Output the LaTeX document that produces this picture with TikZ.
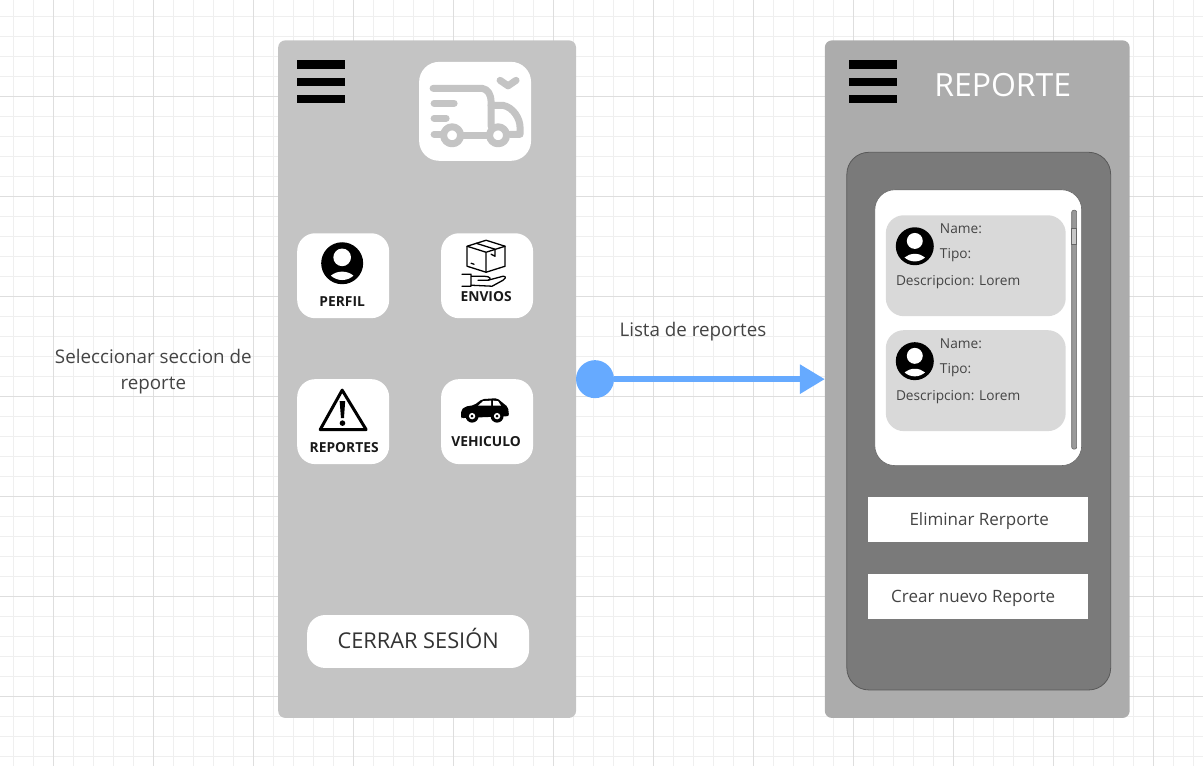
\documentclass[tikz,border=0pt]{standalone}
\usepackage{fontspec}
\setmainfont{Open Sans}
\usetikzlibrary{arrows.meta,positioning}

\definecolor{gridminor}{HTML}{EFEFEF}
\definecolor{gridmajor}{HTML}{DEDEDE}
\definecolor{panelA}{HTML}{C4C4C4}
\definecolor{panelB}{HTML}{ACACAC}
\definecolor{panelIn}{HTML}{7A7A7A}
\definecolor{itemgray}{HTML}{D9D9D9}
\definecolor{link}{HTML}{66AAFF}
\definecolor{txt}{HTML}{444444}

\begin{document}
\begin{tikzpicture}[
	x = 1pt, y = -1pt,
	panel/.style={draw=none, rounded corners=7pt, inner sep=0pt, outer sep=0pt},
	tile/.style={fill=white, rounded corners=18pt, minimum width=92pt, minimum height=85pt, inner sep=0pt, outer sep=0pt},
	tiletext/.style={font=\fontsize{13.8}{14}\selectfont\bfseries, text=black!90, inner sep=0pt},
	item/.style={fill=itemgray, rounded corners=18pt, minimum width=180pt, minimum height=101pt, inner sep=0pt, outer sep=0pt},
	itemtext/.style={font=\fontsize{13.7}{14}\selectfont, text=txt, inner sep=0pt, anchor=west},
	btn/.style={fill=white, minimum width=220pt, minimum height=45pt, inner sep=0pt, outer sep=0pt, font=\fontsize{17}{18}\selectfont, text=txt},
	note/.style={font=\fontsize{18.8}{26}\selectfont, text=txt, align=center, inner sep=0pt},
	truckline/.style={draw=panelA, line width=7pt, line cap=round, line join=round},
	iconline/.style={draw=black, line width=1.3pt, line join=round, line cap=round},
	burger/.pic={
		\fill[black] (0,0) rectangle (48,9);
		\fill[black] (0,17.5) rectangle (48,26);
		\fill[black] (0,34.5) rectangle (48,43);
	},
	usericon/.pic={
		\fill[black] (0,0) circle[radius=#1];
		\fill[white] (0,-.28*#1) circle[radius=.42*#1];
		\begin{scope}
			\clip (0,0) circle[radius=.8*#1];
			\fill[white] (0,1.02*#1) ellipse[x radius=.74*#1, y radius=.62*#1];
		\end{scope}
	},
]

	% Background grid
	\foreach \gx in {13.5,33.5,...,1203} \draw[gridminor, line width=.8pt] (\gx,0) -- (\gx,766);
	\foreach \gy in {16,36,...,766} \draw[gridminor, line width=.8pt] (0,\gy) -- (1203,\gy);
	\foreach \gx in {53.5,153.5,...,1203} \draw[gridmajor, line width=.8pt] (\gx,0) -- (\gx,766);
	\foreach \gy in {96,196,...,766} \draw[gridmajor, line width=.8pt] (0,\gy) -- (1203,\gy);
	\useasboundingbox (0,0) rectangle (1203,766);

	% Left screen
	\node[panel, fill=panelA, minimum width=298pt, minimum height=678pt] (menu) at (427,379) {};
	\pic at (297,60) {burger};
	\node[fill=white, rounded corners=20pt, minimum width=112pt, minimum height=99pt, inner sep=0pt] (logo) at (475,111) {};
	% Truck of the logo
	\draw[truckline] (433,88) -- (482,88) .. controls (488,89) and (491,94) .. (491,102) -- (491,126);
	\draw[truckline] (491,105) -- (503,105) .. controls (513,107) and (520,118) .. (520,127) -- (520,134) -- (510,134);
	\draw[truckline] (434,103) -- (454,103);
	\draw[truckline] (434,118) -- (446,118);
	\draw[truckline] (434,134) -- (440,134);
	\draw[truckline] (463,135) -- (487,135);
	\draw[truckline] (452,135) circle[radius=8.5];
	\draw[truckline] (498,135) circle[radius=8.5];
	\draw[truckline] (500,80) -- (508,85.5) -- (516,80);

	% Menu tiles
	\node[tile] (perfil) at (343,275.5) {};
	\node[tile, right=52pt of perfil] (envios) {};
	\node[tile, below=61pt of perfil] (reportes) {};
	\node[tile, below=61pt of envios] (vehiculo) {};
	\node[tiletext] (perfiltxt) at (342,301) {PERFIL};
	\node[tiletext] (enviostxt) at (486,296) {ENVIOS};
	\node[tiletext] (reportestxt) at (344,447) {REPORTES};
	\node[tiletext] (vehiculotxt) at (486,441) {VEHICULO};
	\pic at (342,263) {usericon=21};

	% Box held by a hand
	\draw[iconline] (467,246) -- (486,240) -- (505,246) -- (505,266) -- (486,272) -- (467,266) -- cycle;
	\draw[iconline] (467,246) -- (486,252) -- (505,246) (486,252) -- (486,272);
	\draw[iconline] (476,243) -- (495,249) -- (495,256) -- (491,254) (471,263) -- (474,264);
	\draw[iconline] (462,274) -- (471,274) -- (471,286) -- (462,286) (471,276) -- (484,276) .. controls (490,276) and (492,279) .. (488,280) -- (478,280);
	\draw[iconline] (488,280) -- (503,276) .. controls (507,276) and (505,279) .. (503,280) -- (492,286) -- (471,285);

	% Warning sign
	\draw[line width=3pt, line join=round] (342,390) -- (320,429.5) -- (366,429.5) -- cycle;
	\fill[black] (339.5,401) -- (345,401) -- (343.8,418) -- (340.8,418) -- cycle;
	\fill[black] (342.3,423) circle[radius=2.8];

	% Car
	\fill[black, rounded corners=2pt] (461,417) -- (461,410) -- (465,406.5) -- (474,405) -- (482,399) -- (497,398) -- (503,403) -- (508,407) -- (509,416) -- (461,418) -- cycle;
	\fill[white] (478,405.5) -- (483,401) -- (491,400.5) -- (491,405.5) -- cycle;
	\fill[white] (493,400.5) -- (498,401) -- (501,405.5) -- (493,405.5) -- cycle;
	\foreach \wx in {472,497} {
		\fill[black] (\wx,416) circle[radius=6.5];
		\fill[white] (\wx,416) circle[radius=3.2];
		\fill[black] (\wx,416) circle[radius=1.5];
	}

	\node[fill=white, rounded corners=18pt, minimum width=222pt, minimum height=53pt, inner sep=0pt, font=\fontsize{21.8}{22}\selectfont, text=black!80] (cerrar) at (418,641.5) {\raisebox{-7pt}[0pt][0pt]{CERRAR SESIÓN}};

	% Right screen
	\node[panel, fill=panelB, minimum width=305pt, minimum height=678pt] (reporte) at (977.5,379) {};
	\pic at (849,60) {burger};
	\node[font=\fontsize{32}{32}\selectfont, text=white, inner sep=0pt] (titulo) at (1003,85) {REPORTE};
	\node[panel, fill=panelIn, draw=black!65, line width=.8pt, rounded corners=22pt, minimum width=264pt, minimum height=538pt] (fondo) at (979,421) {};
	\node[fill=white, draw=black!60, line width=.6pt, rounded corners=20pt, minimum width=207pt, minimum height=276pt, inner sep=0pt] (lista) at (978.5,327.5) {};
	\node[item] (itemA) at (976,265.5) {};
	\node[item, below=14pt of itemA] (itemB) {};
	\draw[black!60, fill=black!40, line width=.6pt, rounded corners=2pt] (1072,210) rectangle (1077,449);
	\draw[black!60, fill=black!22, line width=.7pt] (1072,228) rectangle (1077,244);

	\foreach \oy in {0,115} {
		\pic at (915,{246+\oy}) {usericon=19};
		\node[itemtext] at (940,{228.5+\oy}) {Name:};
		\node[itemtext] at (940,{254.5+\oy}) {Tipo:};
		\node[itemtext] at (896,{281.5+\oy}) {Descripcion: Lorem};
	}

	\node[btn] (eliminar) at (978,519.5) {\hspace*{3pt}\raisebox{-6pt}[0pt][0pt]{Eliminar Rerporte}};
	\node[btn, below=32pt of eliminar] (crear) {\hspace*{-9pt}\raisebox{-6pt}[0pt][0pt]{Crear nuevo Reporte}};

	% Labels
	\node[note] (notaA) at (153,371.5) {Seleccionar seccion de\\reporte};
	\node[note] (notaB) at (693,331.5) {Lista de reportes};

	% Connector
	\node[circle, fill=link, minimum size=38pt, inner sep=0pt, outer sep=0pt, right=0pt of menu] (origen) {};
	\draw[link, line width=6pt, -{Triangle[length=25pt, width=28pt]}] (origen) -- (reporte);

\end{tikzpicture}
\end{document}
